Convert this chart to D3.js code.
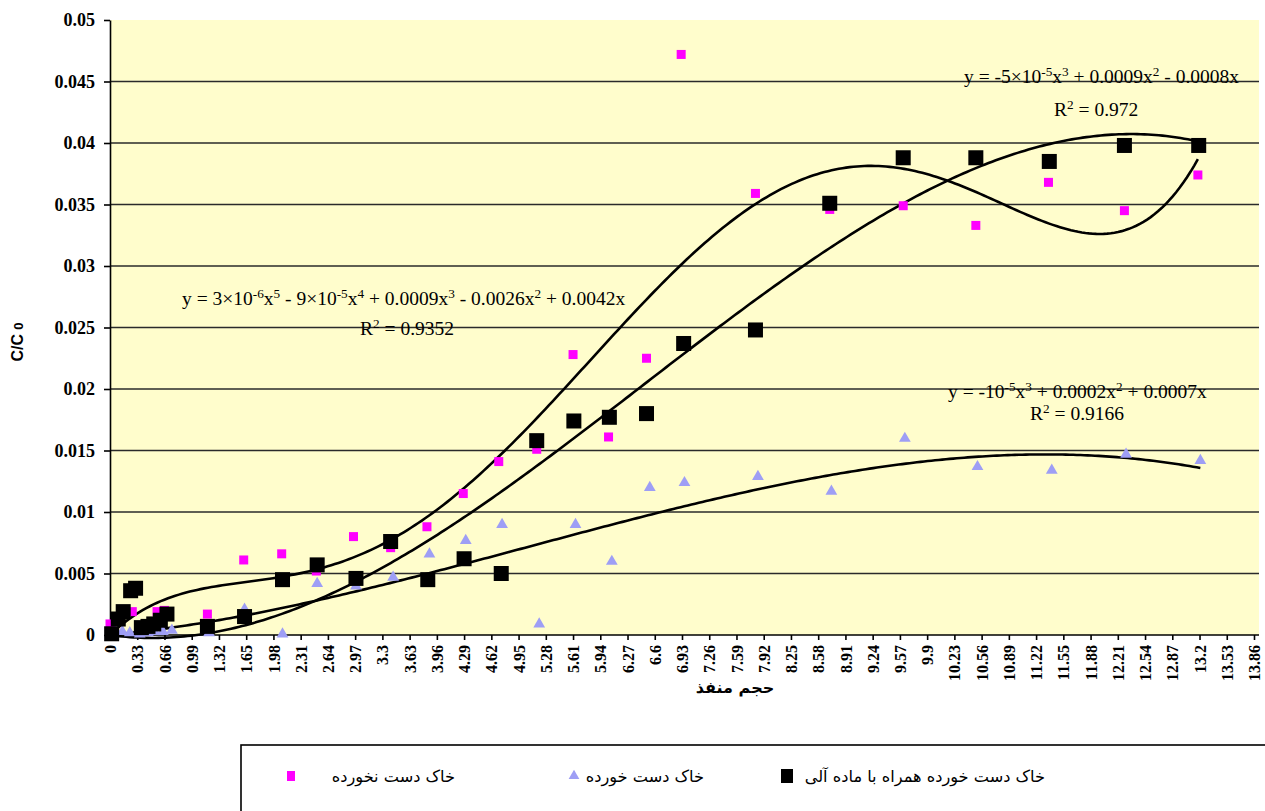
<!DOCTYPE html>
<html><head><meta charset="utf-8">
<script src="https://cdn.jsdelivr.net/npm/d3@7/dist/d3.min.js"></script>
<style>body{margin:0;background:#fff;} svg{display:block;}
.tk text{font-family:'Liberation Serif','Times New Roman',serif;font-weight:bold;fill:#000;}
</style>
</head><body>
<svg id="chart" width="1265" height="811"></svg>
<script>
// ---- data ----
const seriesNames = ["خاک دست نخورده", "خاک دست خورده", "خاک دست خورده همراه با ماده آلی"];

const pinkX = [0.0, 0.07, 0.16, 0.27, 0.57, 0.66, 1.18, 1.62, 2.08, 2.50, 2.95, 3.40, 3.84, 4.28, 4.71, 5.17, 5.61, 6.04, 6.50, 6.92, 7.82, 8.72, 9.61, 10.49, 11.37, 12.29, 13.18];
const pinkY = [0.0009, 0.0015, 0.0019, 0.0019, 0.0019, 0.0020, 0.0017, 0.0061, 0.0066, 0.0052, 0.0080, 0.0071, 0.0088, 0.0115, 0.0141, 0.0151, 0.0228, 0.0161, 0.0225, 0.0472, 0.0359, 0.0346, 0.0349, 0.0333, 0.0368, 0.0345, 0.0374];

const triX = [0, 0.06, 0.15, 0.24, 0.36, 0.46, 0.54, 0.64, 0.75, 1.2, 1.63, 2.09, 2.51, 2.98, 3.43, 3.87, 4.31, 4.75, 5.20, 5.64, 6.08, 6.54, 6.96, 7.85, 8.74, 9.63, 10.51, 11.41, 12.31, 13.21];
const triY = [0, 0.0002, 0.0002, 0.0001, 0.0000, 0.0001, 0.0002, 0.0002, 0.0003, 0.0001, 0.0020, 0.0000, 0.0041, 0.0039, 0.0046, 0.0065, 0.0076, 0.0089, 0.0008, 0.0089, 0.0059, 0.0119, 0.0123, 0.0128, 0.0116, 0.0159, 0.0136, 0.0133, 0.0146, 0.0141];

const blackX = [0.02, 0.10, 0.16, 0.25, 0.31, 0.38, 0.46, 0.53, 0.61, 0.69, 1.18, 1.63, 2.09, 2.51, 2.98, 3.40, 3.85, 4.29, 4.74, 5.17, 5.62, 6.05, 6.50, 6.95, 7.82, 8.72, 9.61, 10.49, 11.38, 12.29, 13.19];
const blackY = [0.0001, 0.0013, 0.0019, 0.0036, 0.0038, 0.0006, 0.0007, 0.0009, 0.0012, 0.0017, 0.0007, 0.0015, 0.0045, 0.0057, 0.0046, 0.0076, 0.0045, 0.0062, 0.0050, 0.0158, 0.0174, 0.0177, 0.0180, 0.0237, 0.0248, 0.0351, 0.0388, 0.0388, 0.0385, 0.0398, 0.0398];

// trendline orders (polynomial through origin)
const pinkOrder = 5, triOrder = 3, blackOrder = 3;

const xTickLabels = ["0","0.33","0.66","0.99","1.32","1.65","1.98","2.31","2.64","2.97","3.3","3.63","3.96","4.29","4.62","4.95","5.28","5.61","5.94","6.27","6.6","6.93","7.26","7.59","7.92","8.25","8.58","8.91","9.24","9.57","9.9","10.23","10.56","10.89","11.22","11.55","11.88","12.21","12.54","12.87","13.2","13.53","13.86"];
const yTickLabels = ["0","0.005","0.01","0.015","0.02","0.025","0.03","0.035","0.04","0.045","0.05"];

// equation texts: [text, isSuperscript]
const eqBlack = [["y = -5×10",0],["-5",1],["x",0],["3",1],[" + 0.0009x",0],["2",1],[" - 0.0008x",0]];
const r2Black = [["R",0],["2",1],[" = 0.972",0]];
const eqPink = [["y = 3×10",0],["-6",1],["x",0],["5",1],[" -  9×10",0],["-5",1],["x",0],["4",1],[" + 0.0009x",0],["3",1],[" - 0.0026x",0],["2",1],[" + 0.0042x",0]];
const r2Pink = [["R",0],["2",1],[" = 0.9352",0]];
const eqTri = [["y = -10",0],["-5",1],["x",0],["3",1],[" + 0.0002x",0],["2",1],[" + 0.0007x",0]];
const r2Tri = [["R",0],["2",1],[" = 0.9166",0]];

// ---- layout ----
const svg = d3.select("#chart");
const L = 110, R = 1254, T = 20, B = 635;
const x = d3.scaleLinear().domain([0, 13.86]).range([L, R]);
const y = d3.scaleLinear().domain([0, 0.05]).range([B, T]);

svg.append("rect").attr("x", L).attr("y", T).attr("width", 1259 - L).attr("height", B - T).attr("fill", "#FFFDCC");

// gridlines
const yVals = yTickLabels.map(Number);
svg.append("g").selectAll("line").data(yVals.filter(v => v > 0 && v < 0.05)).join("line")
  .attr("x1", L).attr("x2", 1259).attr("y1", d => y(d)).attr("y2", d => y(d))
  .attr("stroke", "#2a2a2a").attr("stroke-width", 1.6);

// y axis
const yAxis = d3.axisLeft(y).tickValues(yVals).tickFormat((d, i) => yTickLabels[i]).tickSize(6).tickSizeOuter(0);
const gy = svg.append("g").attr("class", "tk").attr("transform", `translate(${L},0)`).call(yAxis);
gy.attr("font-family", null);
gy.selectAll("text").style("font-size", "18px").attr("x", -15);
gy.selectAll("line,path").attr("stroke", "#000").attr("stroke-width", 1.6);

// x axis
const xVals = xTickLabels.map(Number);
const xAxis = d3.axisBottom(x).tickValues(xVals).tickFormat((d, i) => xTickLabels[i]).tickSize(5).tickSizeOuter(0);
const gx = svg.append("g").attr("class", "tk").attr("transform", `translate(0,${B})`).call(xAxis);
gx.attr("font-family", null);
gx.select("path.domain").attr("d", `M${L},0H1259`);
gx.selectAll("line,path").attr("stroke", "#000").attr("stroke-width", 1.6);
gx.selectAll("text").style("font-size", "16px")
  .attr("transform", "rotate(-90)").attr("text-anchor", "end").attr("x", -10).attr("y", 0).attr("dy", "0.35em");

// polynomial least-squares through origin
function polyFit(xs, ys, deg) {
  const s = 10; // scale for numeric stability
  const n = deg;
  const M = Array.from({length: n}, () => Array(n + 1).fill(0));
  xs.forEach((xv, k) => {
    const t = xv / s;
    const p = []; for (let i = 1; i <= n; i++) p.push(Math.pow(t, i));
    for (let i = 0; i < n; i++) { for (let j = 0; j < n; j++) M[i][j] += p[i] * p[j]; M[i][n] += p[i] * ys[k]; }
  });
  for (let c = 0; c < n; c++) {
    let piv = c; for (let r = c + 1; r < n; r++) if (Math.abs(M[r][c]) > Math.abs(M[piv][c])) piv = r;
    [M[c], M[piv]] = [M[piv], M[c]];
    for (let r = 0; r < n; r++) if (r !== c) { const f = M[r][c] / M[c][c]; for (let j = c; j <= n; j++) M[r][j] -= f * M[c][j]; }
  }
  const coef = M.map((row, i) => row[n] / row[i]);
  return xv => { const t = xv / s; let v = 0; for (let i = 0; i < n; i++) v += coef[i] * Math.pow(t, i + 1); return v; };
}

function trend(xs, ys, deg) {
  const f = polyFit(xs, ys, deg);
  const x0 = d3.min(xs), x1 = d3.max(xs);
  const pts = d3.range(0, 301).map(i => { const xv = x0 + (x1 - x0) * i / 300; return [xv, f(xv)]; });
  svg.append("path").datum(pts).attr("fill", "none").attr("stroke", "#000").attr("stroke-width", 2.6)
    .attr("d", d3.line().x(d => x(d[0])).y(d => y(d[1])));
}
trend(pinkX, pinkY, pinkOrder);
trend(blackX, blackY, blackOrder);
trend(triX, triY, triOrder);

// markers
const tri = d3.symbol().type(d3.symbolTriangle).size(60);
svg.append("g").selectAll("path").data(triX.map((v, i) => [v, triY[i]])).join("path")
  .attr("d", tri).attr("transform", d => `translate(${x(d[0])},${y(d[1]) - 1})`).attr("fill", "#9E9EF5");
svg.append("g").selectAll("rect").data(pinkX.map((v, i) => [v, pinkY[i]])).join("rect")
  .attr("x", d => x(d[0]) - 4.5).attr("y", d => y(d[1]) - 4.5).attr("width", 9).attr("height", 9).attr("fill", "#FF00FF");
svg.append("g").selectAll("rect").data(blackX.map((v, i) => [v, blackY[i]])).join("rect")
  .attr("x", d => x(d[0]) - 7.5).attr("y", d => y(d[1]) - 7.5).attr("width", 15).attr("height", 15).attr("fill", "#000");

// equations
function eq(parts, x0, yb, size) {
  const t = svg.append("text").attr("x", x0).attr("y", yb).attr("font-family", "Liberation Serif").attr("font-size", size).attr("fill", "#000");
  parts.forEach(([s, sup]) => {
    const ts = t.append("tspan").text(s);
    if (sup) ts.attr("font-size", size * 0.68).attr("baseline-shift", "super");
  });
  return t;
}
eq(eqBlack, 964, 83, 19.5);
eq(r2Black, 1054, 116, 19.5);
eq(eqPink, 182, 305, 19.5);
eq(r2Pink, 360, 335, 19.5);
eq(eqTri, 948, 398, 19.5);
eq(r2Tri, 1030, 420, 19.5);

// axis titles
svg.append("text").attr("x", 735).attr("y", 693).attr("text-anchor", "middle").attr("font-family", "DejaVu Sans").attr("font-weight", "bold").attr("font-size", 16).attr("direction", "rtl").text("حجم منفذ");
const yt = svg.append("text").attr("transform", "translate(23,342) rotate(-90)").attr("text-anchor", "middle").attr("font-family", "Liberation Sans").attr("font-weight", "bold").attr("font-size", 16);
yt.append("tspan").text("C/C ");
yt.append("tspan").attr("font-size", 13).text("0");

// legend
svg.append("rect").attr("x", 241).attr("y", 745).attr("width", 1100).attr("height", 120).attr("fill", "#fff").attr("stroke", "#000").attr("stroke-width", 1.6);
const lg = [
  {name: seriesNames[0], mx: 291, tx: 455, kind: "pink"},
  {name: seriesNames[1], mx: 574, tx: 704, kind: "tri"},
  {name: seriesNames[2], mx: 787, tx: 1045, kind: "black"}
];
lg.forEach(d => {
  if (d.kind === "pink") svg.append("rect").attr("x", d.mx - 4).attr("y", 771).attr("width", 8).attr("height", 10).attr("fill", "#FF00FF");
  if (d.kind === "black") svg.append("rect").attr("x", d.mx - 6).attr("y", 769).attr("width", 12).attr("height", 14).attr("fill", "#000");
  if (d.kind === "tri") svg.append("path").attr("d", d3.symbol().type(d3.symbolTriangle).size(50)).attr("transform", `translate(${d.mx},776)`).attr("fill", "#9E9EF5");
  svg.append("text").attr("x", d.tx).attr("y", 782).attr("text-anchor", "start").attr("direction", "rtl")
    .attr("font-family", "DejaVu Sans").attr("font-size", 16.2).attr("fill", "#000").text(d.name);
});
</script>
</body></html>
